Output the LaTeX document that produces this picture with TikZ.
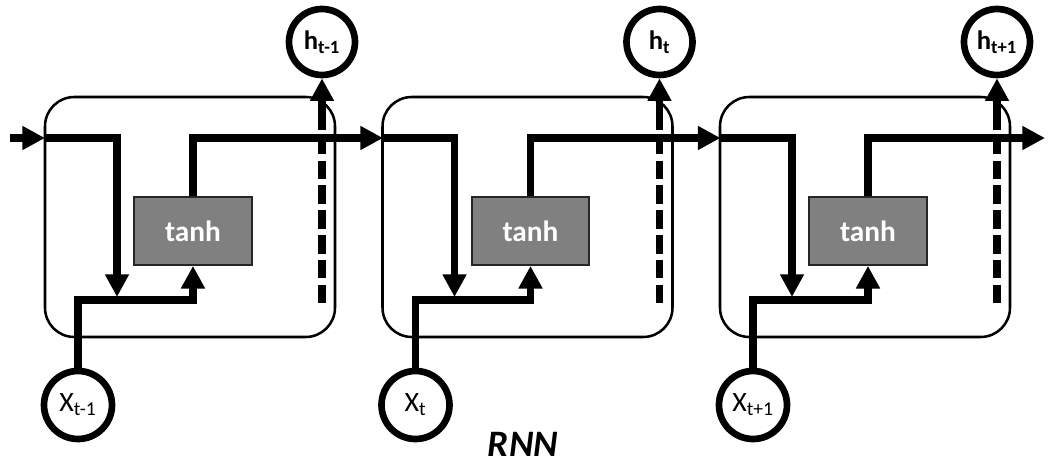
\documentclass[tikz,border=0pt]{standalone}
\usepackage{fontspec}
\setmainfont{Carlito}
\usetikzlibrary{arrows.meta}

\begin{document}
\begin{tikzpicture}[x=0.75pt,y=-0.75pt,
  cell/.style={draw,line width=1.9pt,rounded corners=22pt,minimum width=217.5pt,minimum height=180pt},
  gate/.style={draw=black!85,line width=1.3pt,fill=black!50,text=white,minimum width=88pt,minimum height=51pt,font=\bfseries\fontsize{22}{22}\selectfont},
  state/.style={circle,draw,line width=5pt,fill=white,minimum size=49.5pt,inner sep=0pt},
  flow/.style={line width=5.5pt},
  tip/.style={flow,-{Triangle[length=17pt,width=17pt]}}]
\useasboundingbox (0,0) rectangle (1051,467);
\coordinate (start) at (10,138);
\coordinate (e0) at (45,138);
\draw[tip] (start) -- (e0);
\foreach \i/\t/\ex in {0/t-1/383,1/t/720.5,2/t+1/1045}{
  \pgfmathsetmacro\o{337.5*\i}
  \pgfmathtruncatemacro\n{\i+1}
  \node[cell] (c\i) at (190+\o,217) {};
  \node[gate] (g\i) at (193+\o,231) {tanh};
  \node[state,font=\bfseries\fontsize{20}{20}\selectfont] (h\i) at (322+\o,42) {h\textsubscript{\t}};
  \node[state,font=\fontsize{21}{21}\selectfont,minimum size=51pt] (x\i) at (78+\o,405) {X\textsubscript{\t}};
  \coordinate (e\n) at (\ex,138);
  \coordinate (d\i) at (117+\o,297);
  \coordinate (j\i) at (193+\o,300);
  \coordinate (s\i) at (322+\o,111);
  \coordinate (b\i) at (322+\o,303);
  \draw[tip] (e\i) -| (d\i);
  \draw[tip] (x\i.north) |- (j\i) -- (g\i.south);
  \draw[tip] (g\i.north) |- (e\n);
  \draw[flow,dash pattern=on 13.95pt off 4.65pt] (s\i) -- (b\i);
  \draw[tip] (s\i) -- (h\i.south);
}
\node[font=\bfseries\itshape\fontsize{28}{28}\selectfont] (title) at (523,444) {RNN};
\end{tikzpicture}
\end{document}
